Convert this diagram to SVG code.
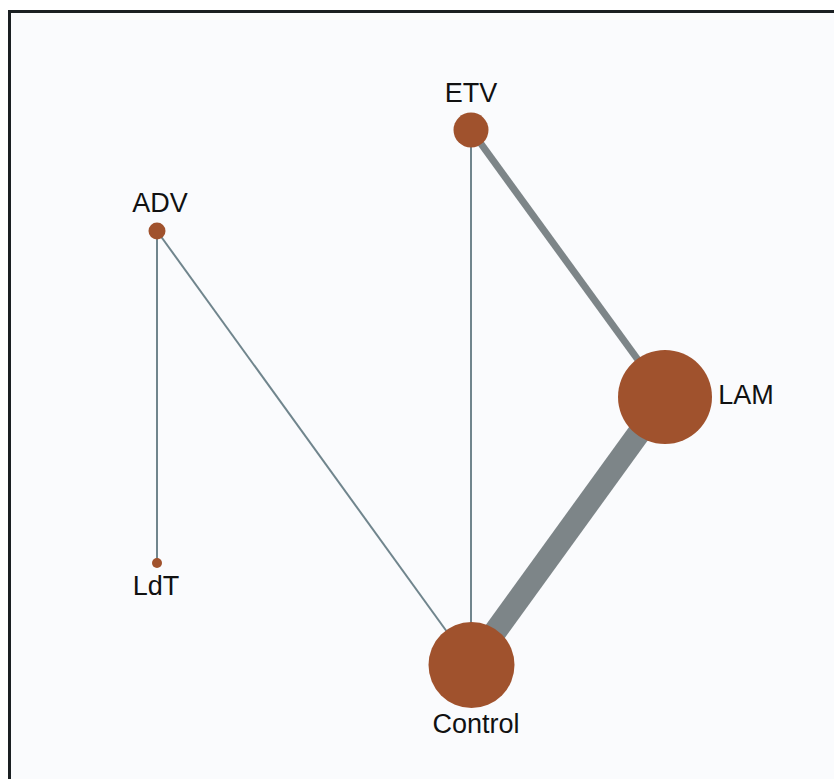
<svg xmlns="http://www.w3.org/2000/svg" width="834" height="779" viewBox="0 0 834 779">
<style>
.node{fill:#A0522D}
.lbl{font-family:"Liberation Sans",Arial,sans-serif;font-size:27px;fill:#111;text-anchor:middle}
.edge{stroke:#7d8588;fill:none}
.thin{stroke:#70858d;stroke-width:2}
</style>
<rect x="0" y="0" width="834" height="779" fill="#ffffff"/>
<rect x="9.5" y="11.5" width="840" height="790" fill="#fafbfd" stroke="#1a1f22" stroke-width="3"/>
<g id="connectors">
<line class="edge thin" x1="157" y1="231" x2="157" y2="563"/>
<line class="edge thin" x1="157" y1="231" x2="471" y2="665"/>
<line class="edge thin" x1="471" y1="130" x2="471" y2="665"/>
<line class="edge" stroke-width="7" x1="471" y1="130" x2="665" y2="397"/>
<line class="edge" stroke-width="23" x1="665" y1="397" x2="471" y2="665"/>
</g>
<g id="ETV"><circle class="node" cx="471" cy="130" r="17.5"/><text class="lbl" x="471" y="102">ETV</text></g>
<g id="ADV"><circle class="node" cx="157" cy="231" r="8.5"/><text class="lbl" x="160" y="212">ADV</text></g>
<g id="LAM"><circle class="node" cx="665" cy="397" r="47"/><text class="lbl" x="746" y="404">LAM</text></g>
<g id="Control"><circle class="node" cx="471.5" cy="665" r="43"/><text class="lbl" x="476" y="733">Control</text></g>
<g id="LdT"><circle class="node" cx="157" cy="563" r="5"/><text class="lbl" x="156" y="595">LdT</text></g>
</svg>
